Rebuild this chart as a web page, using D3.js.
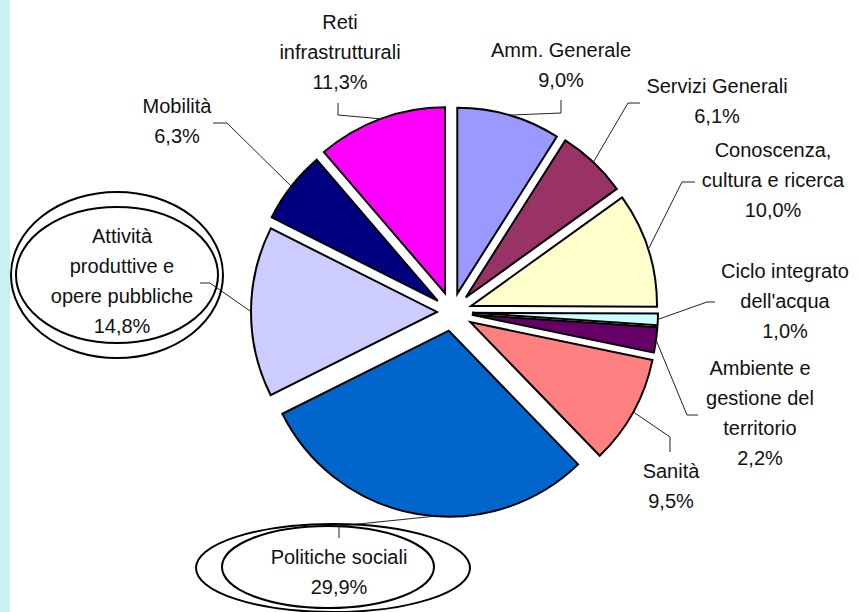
<!DOCTYPE html>
<html>
<head>
<meta charset="utf-8">
<script src="https://cdn.jsdelivr.net/npm/d3@7"></script>
<style>
  body { margin: 0; background: #fff; }
  svg { display: block; }
  .lbl { font-family: Arial, "Liberation Sans", sans-serif; font-size: 20px; fill: #111; }
</style>
</head>
<body>
<div id="chart"></div>
<script>
// data
var categories = ["Amm. Generale", "Servizi Generali", "Conoscenza, cultura e ricerca",
  "Ciclo integrato dell'acqua", "Ambiente e gestione del territorio", "Sanità",
  "Politiche sociali", "Attività produttive e opere pubbliche", "Mobilità", "Reti infrastrutturali"];
var values = [9.0, 6.1, 10.0, 1.0, 2.2, 9.5, 29.9, 14.8, 6.3, 11.3];
var valueLabels = ["9,0%", "6,1%", "10,0%", "1,0%", "2,2%", "9,5%", "29,9%", "14,8%", "6,3%", "11,3%"];
var labelLines = [
  ["Amm. Generale"], ["Servizi Generali"], ["Conoscenza,", "cultura e ricerca"],
  ["Ciclo integrato", "dell'acqua"], ["Ambiente e", "gestione del", "territorio"], ["Sanità"],
  ["Politiche sociali"], ["Attività", "produttive e", "opere pubbliche"], ["Mobilità"],
  ["Reti", "infrastrutturali"]
];
var colors = ["#9999FF", "#993366", "#FFFFCC", "#CCFFFF", "#660066", "#FF8080",
  "#0066CC", "#CCCCFF", "#000080", "#FF00FF"];

// layout (label position, leader elbows, explosion)
var layout = [
  {x: 561, y: 57,  leg: [[561, 100], [561, 113]], ex: 19},
  {x: 717, y: 93,  leg: [[640, 103], [628, 103]], ex: 20},
  {x: 773, y: 157, leg: [[695, 182], [682, 182]], ex: 20},
  {x: 785, y: 278, leg: [[715, 302], [707, 302]], ex: 20},
  {x: 760, y: 375, leg: [[698, 415], [687, 415]], ex: 20},
  {x: 671, y: 478, leg: [[670, 452], [670, 437]], ex: 21},
  {x: 339, y: 564, leg: [[339, 538], [339, 526]], ex: 19, at: 0.45},
  {x: 122, y: 243, leg: [[200, 283], [210, 283]], ex: 15},
  {x: 177, y: 113, leg: [[213, 123], [227, 123]], ex: 18},
  {x: 340, y: 29,  leg: [[338, 103], [338, 115]], ex: 20}
];

var width = 859, height = 612;
var cx = 452, cy = 312, r = 186;
var lineH = 30;

var svg = d3.select("#chart").append("svg")
  .attr("width", width).attr("height", height);

svg.append("rect").attr("x", 0).attr("y", 0).attr("width", 10).attr("height", height)
  .attr("fill", "#CCEFEF");

var pie = d3.pie().sort(null).value(function(d) { return d; });
var arcs = pie(values);
var arc = d3.arc().innerRadius(0).outerRadius(r);

var g = svg.append("g").attr("transform", "translate(" + cx + "," + cy + ")");

function offset(d, i) {
  var a = (d.startAngle + d.endAngle) / 2;
  var e = layout[i].ex;
  return [e * Math.sin(a), -e * Math.cos(a)];
}

g.selectAll("path.slice")
  .data(arcs)
  .enter()
  .append("path")
  .attr("class", "slice")
  .attr("d", arc)
  .attr("transform", function(d, i) {
    var o = offset(d, i);
    return "translate(" + o[0] + "," + o[1] + ")";
  })
  .attr("fill", function(d, i) { return colors[i]; })
  .attr("stroke", "#000")
  .attr("stroke-width", 2)
  .attr("stroke-linejoin", "miter");

// leader lines
var line = d3.line();
svg.selectAll("path.leader")
  .data(arcs)
  .enter()
  .append("path")
  .attr("class", "leader")
  .attr("d", function(d, i) {
    var t = layout[i].at != null ? layout[i].at : 0.5;
    var a = d.startAngle + t * (d.endAngle - d.startAngle);
    var o = offset(d, i);
    var end = [cx + o[0] + r * Math.sin(a), cy + o[1] - r * Math.cos(a)];
    return line(layout[i].leg.concat([end]));
  })
  .attr("fill", "none")
  .attr("stroke", "#222")
  .attr("stroke-width", 1);

// highlight ellipses
var ellipses = [
  {cx: 117, cy: 275, rx: 106, ry: 83},
  {cx: 117, cy: 275, rx: 101, ry: 68},
  {cx: 333, cy: 568, rx: 137, ry: 44},
  {cx: 328, cy: 567, rx: 106, ry: 41}
];
svg.selectAll("ellipse")
  .data(ellipses)
  .enter()
  .append("ellipse")
  .attr("cx", function(d) { return d.cx; })
  .attr("cy", function(d) { return d.cy; })
  .attr("rx", function(d) { return d.rx; })
  .attr("ry", function(d) { return d.ry; })
  .attr("fill", "none")
  .attr("stroke", "#000")
  .attr("stroke-width", 2);

// labels
var labels = svg.selectAll("text.lbl")
  .data(arcs)
  .enter()
  .append("text")
  .attr("class", "lbl")
  .attr("text-anchor", "middle")
  .attr("x", function(d, i) { return layout[i].x; })
  .attr("y", function(d, i) { return layout[i].y; });

labels.each(function(d, i) {
  var rows = labelLines[i].concat([valueLabels[i]]);
  var t = d3.select(this);
  rows.forEach(function(s, k) {
    t.append("tspan")
      .attr("x", layout[i].x)
      .attr("dy", k === 0 ? 0 : lineH)
      .text(s);
  });
});
</script>
</body>
</html>
